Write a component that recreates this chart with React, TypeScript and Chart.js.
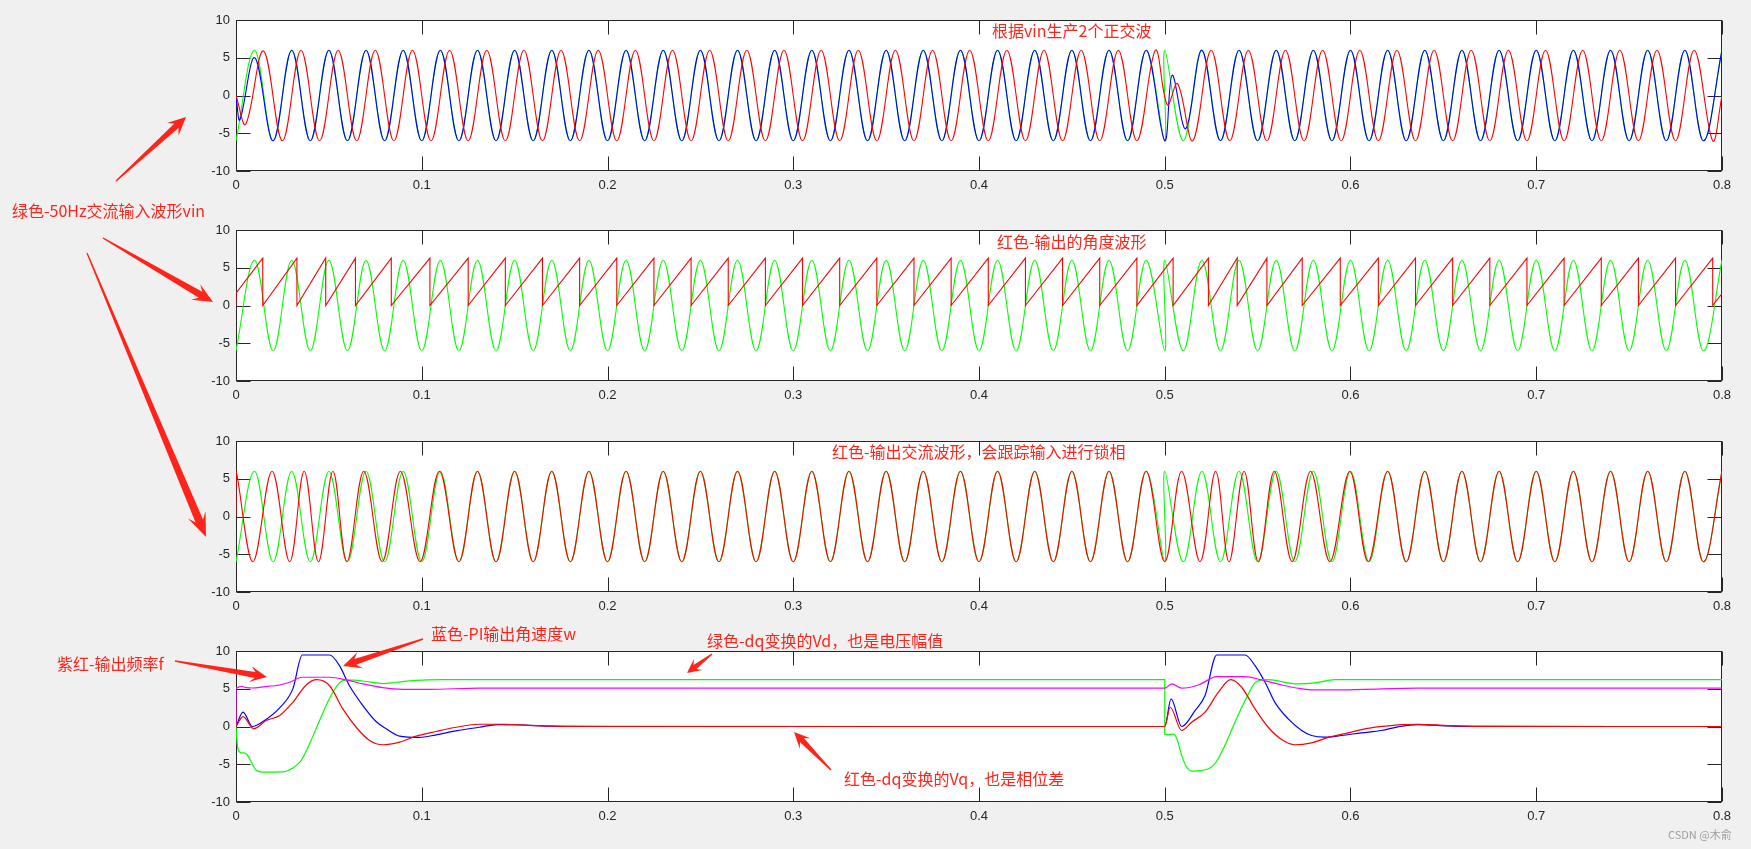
import React, { useEffect, useRef } from "react";
import { Chart, registerables } from "chart.js";

Chart.register(...registerables);

// ---------------- axis ticks ----------------
const X_TICKS = [0, 0.1, 0.2, 0.3, 0.4, 0.5, 0.6, 0.7, 0.8];
const X_TICK_LABELS = ["0", "0.1", "0.2", "0.3", "0.4", "0.5", "0.6", "0.7", "0.8"];
const Y_TICKS = [-10, -5, 0, 5, 10];
const Y_TICK_LABELS = ["-10", "-5", "0", "5", "10"];

// ---------------- series (time s, value) ----------------
// green: 50 Hz input vin (extremes; phase reversal at 0.5 s)
const vinInput = [
  [0, -6], [0.01, 6], [0.02, -6], [0.03, 6], [0.04, -6], [0.05, 6], [0.06, -6], [0.07, 6], [0.08, -6], [0.09, 6],
  [0.1, -6], [0.11, 6], [0.12, -6], [0.13, 6], [0.14, -6], [0.15, 6], [0.16, -6], [0.17, 6], [0.18, -6], [0.19, 6],
  [0.2, -6], [0.21, 6], [0.22, -6], [0.23, 6], [0.24, -6], [0.25, 6], [0.26, -6], [0.27, 6], [0.28, -6], [0.29, 6],
  [0.3, -6], [0.31, 6], [0.32, -6], [0.33, 6], [0.34, -6], [0.35, 6], [0.36, -6], [0.37, 6], [0.38, -6], [0.39, 6],
  [0.4, -6], [0.41, 6], [0.42, -6], [0.43, 6], [0.44, -6], [0.45, 6], [0.46, -6], [0.47, 6], [0.48, -6], [0.49, 6],
  [0.5, -6], [0.5, 6], [0.51, -6], [0.52, 6], [0.53, -6], [0.54, 6], [0.55, -6], [0.56, 6], [0.57, -6], [0.58, 6], [0.59, -6],
  [0.6, 6], [0.61, -6], [0.62, 6], [0.63, -6], [0.64, 6], [0.65, -6], [0.66, 6], [0.67, -6], [0.68, 6], [0.69, -6],
  [0.7, 6], [0.71, -6], [0.72, 6], [0.73, -6], [0.74, 6], [0.75, -6], [0.76, 6], [0.77, -6], [0.78, 6], [0.79, -6], [0.8, 6],
];

// blue: in-phase orthogonal wave
const alphaWave = [
  [0, 0], [0.0021, -3.2], [0.0101, 5.0], [0.02, -6], [0.03, 6], [0.04, -6], [0.05, 6], [0.06, -6], [0.07, 6], [0.08, -6], [0.09, 6],
  [0.1, -6], [0.11, 6], [0.12, -6], [0.13, 6], [0.14, -6], [0.15, 6], [0.16, -6], [0.17, 6], [0.18, -6], [0.19, 6],
  [0.2, -6], [0.21, 6], [0.22, -6], [0.23, 6], [0.24, -6], [0.25, 6], [0.26, -6], [0.27, 6], [0.28, -6], [0.29, 6],
  [0.3, -6], [0.31, 6], [0.32, -6], [0.33, 6], [0.34, -6], [0.35, 6], [0.36, -6], [0.37, 6], [0.38, -6], [0.39, 6],
  [0.4, -6], [0.41, 6], [0.42, -6], [0.43, 6], [0.44, -6], [0.45, 6], [0.46, -6], [0.47, 6], [0.48, -6], [0.49, 6],
  [0.5, -6], [0.504, 2.7], [0.5113, -4.4], [0.52, 6], [0.53, -6], [0.54, 6], [0.55, -6], [0.56, 6], [0.57, -6], [0.58, 6], [0.59, -6],
  [0.6, 6], [0.61, -6], [0.62, 6], [0.63, -6], [0.64, 6], [0.65, -6], [0.66, 6], [0.67, -6], [0.68, 6], [0.69, -6],
  [0.7, 6], [0.71, -6], [0.72, 6], [0.73, -6], [0.74, 6], [0.75, -6], [0.76, 6], [0.77, -6], [0.78, 6], [0.79, -6], [0.8, 6],
];

// red: quadrature orthogonal wave
const betaWave = [
  [0, 0], [0.0052, -3.8], [0.0148, 5.9], [0.025, -6], [0.035, 6], [0.045, -6], [0.055, 6], [0.065, -6], [0.075, 6], [0.085, -6], [0.095, 6],
  [0.105, -6], [0.115, 6], [0.125, -6], [0.135, 6], [0.145, -6], [0.155, 6], [0.165, -6], [0.175, 6], [0.185, -6], [0.195, 6],
  [0.205, -6], [0.215, 6], [0.225, -6], [0.235, 6], [0.245, -6], [0.255, 6], [0.265, -6], [0.275, 6], [0.285, -6], [0.295, 6],
  [0.305, -6], [0.315, 6], [0.325, -6], [0.335, 6], [0.345, -6], [0.355, 6], [0.365, -6], [0.375, 6], [0.385, -6], [0.395, 6],
  [0.405, -6], [0.415, 6], [0.425, -6], [0.435, 6], [0.445, -6], [0.455, 6], [0.465, -6], [0.475, 6], [0.485, -6], [0.495, 6],
  [0.5014, -1.26], [0.5069, 1.57], [0.5151, -6], [0.525, 6], [0.535, -6], [0.545, 6], [0.555, -6], [0.565, 6], [0.575, -6], [0.585, 6], [0.595, -6],
  [0.605, 6], [0.615, -6], [0.625, 6], [0.635, -6], [0.645, 6], [0.655, -6], [0.665, 6], [0.675, -6], [0.685, 6], [0.695, -6],
  [0.705, 6], [0.715, -6], [0.725, 6], [0.735, -6], [0.745, 6], [0.755, -6], [0.765, 6], [0.775, -6], [0.785, 6], [0.795, -6], [0.8, 0],
];

// red: output angle (sawtooth 0..2pi)
const thetaAngle = [
  [0, 0], [0, 1.65], [0.0144, 6.28], [0.0144, 0], [0.0328, 6.28], [0.0328, 0], [0.0483, 6.28], [0.0483, 0],
  [0.0643, 6.28], [0.0643, 0], [0.0836, 6.28], [0.0836, 0], [0.1044, 6.28], [0.1044, 0], [0.125, 6.28], [0.125, 0],
  [0.145, 6.28], [0.145, 0], [0.165, 6.28], [0.165, 0], [0.185, 6.28], [0.185, 0], [0.205, 6.28], [0.205, 0],
  [0.225, 6.28], [0.225, 0], [0.245, 6.28], [0.245, 0], [0.265, 6.28], [0.265, 0], [0.285, 6.28], [0.285, 0],
  [0.305, 6.28], [0.305, 0], [0.325, 6.28], [0.325, 0], [0.345, 6.28], [0.345, 0], [0.365, 6.28], [0.365, 0],
  [0.385, 6.28], [0.385, 0], [0.405, 6.28], [0.405, 0], [0.425, 6.28], [0.425, 0], [0.445, 6.28], [0.445, 0],
  [0.465, 6.28], [0.465, 0], [0.485, 6.28], [0.485, 0], [0.5045, 6.28], [0.5045, 0], [0.5235, 6.28], [0.5235, 0],
  [0.539, 6.28], [0.539, 0], [0.555, 6.28], [0.555, 0], [0.574, 6.28], [0.574, 0], [0.5945, 6.28], [0.5945, 0],
  [0.615, 6.28], [0.615, 0], [0.635, 6.28], [0.635, 0], [0.655, 6.28], [0.655, 0], [0.675, 6.28], [0.675, 0],
  [0.695, 6.28], [0.695, 0], [0.715, 6.28], [0.715, 0], [0.735, 6.28], [0.735, 0], [0.755, 6.28], [0.755, 0],
  [0.775, 6.28], [0.775, 0], [0.795, 6.28], [0.795, 0], [0.8, 1.57],
];

// red: PLL output sine
const pllOutput = [
  [0, 0], [0, 6], [0.0091, -6], [0.0194, 6], [0.0289, -6], [0.0367, 6], [0.0444, -6], [0.0522, 6], [0.0597, -6], [0.0688, 6],
  [0.0787, -6], [0.0885, 6], [0.0991, -6], [0.1095, 6], [0.12, -6], [0.13, 6], [0.14, -6], [0.15, 6], [0.16, -6], [0.17, 6],
  [0.18, -6], [0.19, 6], [0.2, -6], [0.21, 6], [0.22, -6], [0.23, 6], [0.24, -6], [0.25, 6], [0.26, -6], [0.27, 6],
  [0.28, -6], [0.29, 6], [0.3, -6], [0.31, 6], [0.32, -6], [0.33, 6], [0.34, -6], [0.35, 6], [0.36, -6], [0.37, 6],
  [0.38, -6], [0.39, 6], [0.4, -6], [0.41, 6], [0.42, -6], [0.43, 6], [0.44, -6], [0.45, 6], [0.46, -6], [0.47, 6],
  [0.48, -6], [0.49, 6], [0.5, -6], [0.5091, 6], [0.519, -6], [0.5274, 6], [0.5346, -6], [0.5427, 6], [0.5504, -6], [0.559, 6],
  [0.5686, -6], [0.5785, 6], [0.5889, -6], [0.5996, 6], [0.6095, -6], [0.62, 6], [0.63, -6], [0.64, 6], [0.65, -6], [0.66, 6],
  [0.67, -6], [0.68, 6], [0.69, -6], [0.7, 6], [0.71, -6], [0.72, 6], [0.73, -6], [0.74, 6], [0.75, -6], [0.76, 6],
  [0.77, -6], [0.78, 6], [0.79, -6], [0.8, 6],
];

// blue: PI output angular speed w
const omegaPI = [
  [0, 0], [0.0038, 1.9], [0.0088, 0.0], [0.0145, 0.66], [0.0235, 2.47], [0.0306, 4.98], [0.0357, 9.47], [0.0504, 9.47],
  [0.0557, 8.06], [0.0611, 5.4], [0.0683, 2.77], [0.0754, 0.66], [0.0808, -0.3], [0.088, -1.28], [0.0987, -1.45],
  [0.1077, -1.1], [0.1185, -0.57], [0.131, -0.1], [0.1406, 0.25], [0.155, 0.2], [0.17, 0.05], [0.2, 0], [0.5, 0],
  [0.5034, 3.66], [0.5091, 0.0], [0.5163, 2.1], [0.5217, 4.1], [0.528, 9.47], [0.5432, 9.47], [0.5486, 8.06],
  [0.554, 5.86], [0.5593, 3.2], [0.5665, 1.0], [0.5737, -0.53], [0.579, -1.19], [0.5862, -1.41], [0.5952, -1.19],
  [0.6059, -0.84], [0.6167, -0.53], [0.6256, -0.04], [0.6364, 0.26], [0.651, 0.09], [0.67, 0.02], [0.8, 0],
];

// green: dq transform Vd (voltage amplitude)
const vdValue = [
  [0, 0], [0.001, -2.95], [0.0029, -3.48], [0.0056, -3.6], [0.0073, -4.27], [0.0109, -5.8], [0.0145, -6.03], [0.0253, -6.0],
  [0.0306, -5.5], [0.0351, -4.5], [0.0396, -2.3], [0.045, 0.8], [0.0504, 3.74], [0.0557, 5.77], [0.0593, 6.17],
  [0.0683, 6.03], [0.079, 5.68], [0.0862, 5.86], [0.097, 6.12], [0.1113, 6.2], [0.5, 6.2], [0.5, -1.0], [0.502, -1.1],
  [0.5047, -1.0], [0.5065, -1.6], [0.5091, -3.83], [0.5118, -5.4], [0.5145, -5.9], [0.5235, -5.6], [0.5271, -4.9],
  [0.5324, -2.5], [0.5378, 0.57], [0.5432, 3.4], [0.5486, 5.77], [0.554, 6.2], [0.5575, 6.17], [0.5719, 5.64],
  [0.5808, 5.77], [0.5916, 6.2], [0.8, 6.2],
];

// red: dq transform Vq (phase difference)
const vqValue = [
  [0, 0], [0.0038, 1.32], [0.0095, -0.3], [0.0163, 0.8], [0.0235, 1.45], [0.0306, 3.2], [0.0378, 5.5], [0.0435, 6.2],
  [0.0504, 5.4], [0.0575, 2.33], [0.0647, -0.1], [0.0719, -1.85], [0.079, -2.42], [0.088, -2.07], [0.097, -1.28],
  [0.1077, -0.66], [0.1185, -0.1], [0.131, 0.3], [0.145, 0.3], [0.16, 0.12], [0.18, 0.02], [0.5, 0],
  [0.5029, 2.55], [0.5091, -0.53], [0.5145, 0.57], [0.5217, 1.9], [0.5289, 4.54], [0.5355, 6.2], [0.5414, 5.2],
  [0.5486, 2.33], [0.5557, -0.1], [0.5629, -1.72], [0.5701, -2.42], [0.579, -2.16], [0.588, -1.45], [0.5987, -0.84],
  [0.6077, -0.31], [0.6167, 0], [0.6274, 0.26], [0.6364, 0.3], [0.65, 0.15], [0.67, 0.02], [0.8, 0],
];

// magenta: output frequency f
const freqOut = [
  [0, 0], [0, 5.1], [0.0029, 5.33], [0.0056, 5.15], [0.009, 5.1], [0.0145, 5.24], [0.0235, 5.5], [0.0289, 5.86],
  [0.0357, 6.52], [0.0504, 6.52], [0.0593, 6.17], [0.0683, 5.64], [0.079, 5.15], [0.0898, 4.93], [0.1041, 4.93],
  [0.131, 5.07], [0.5, 5.07], [0.5038, 5.64], [0.5091, 5.07], [0.5181, 5.5], [0.528, 6.6], [0.5432, 6.6],
  [0.5521, 6.17], [0.5629, 5.5], [0.5719, 5.07], [0.5808, 4.85], [0.5916, 4.85], [0.6077, 4.93], [0.6364, 5.07], [0.8, 5.07],
];

// ---------------- styling / layout ----------------
const GREEN = "#00ff00";
const BLUE = "#0000ff";
const RED = "#ff0000";
const MAGENTA = "#ff00ff";
const AXIS_COLOR = "#262626";
const NOTE_COLOR = "#ff2419";
const TICK_FONT = "'Liberation Sans', Arial, Helvetica, sans-serif";
const CJK_FONT = "'Noto Sans CJK SC', 'Microsoft YaHei', sans-serif";

const FIG_W = 1751;
const FIG_H = 849;
const AX_LEFT = 236;
const AX_RIGHT = 1722;
const AX_H = 151;
const AX_TOPS = [20, 230, 441, 651];
const PAD_TOP = 16;
const LABEL_SPACE = 34;
const CANVAS_H = PAD_TOP + AX_H + LABEL_SPACE;
const INNER_TICK = 14;

type Mode = "sine" | "linear" | "monotone";
type LineSpec = { data: number[][]; color: string; mode: Mode; width: number };

// listed top-most first (Chart.js paints the first dataset last)
const PANELS: LineSpec[][] = [
  [
    { data: betaWave, color: RED, mode: "sine", width: 1.1 },
    { data: alphaWave, color: BLUE, mode: "sine", width: 1.1 },
    { data: vinInput, color: GREEN, mode: "sine", width: 1.1 },
  ],
  [
    { data: thetaAngle, color: RED, mode: "linear", width: 1.1 },
    { data: vinInput, color: GREEN, mode: "sine", width: 1.1 },
  ],
  [
    { data: pllOutput, color: RED, mode: "sine", width: 1.1 },
    { data: vinInput, color: GREEN, mode: "sine", width: 1.1 },
  ],
  [
    { data: vqValue, color: RED, mode: "monotone", width: 1.2 },
    { data: freqOut, color: MAGENTA, mode: "monotone", width: 1.2 },
    { data: vdValue, color: GREEN, mode: "monotone", width: 1.2 },
    { data: omegaPI, color: BLUE, mode: "monotone", width: 1.2 },
  ],
];

const axesPlugin = {
  id: "matlabAxes",
  beforeDraw(chart: any) {
    const { ctx, chartArea } = chart;
    ctx.save();
    ctx.fillStyle = "#ffffff";
    ctx.fillRect(chartArea.left, chartArea.top, chartArea.right - chartArea.left, chartArea.bottom - chartArea.top);
    ctx.restore();
  },
  beforeDatasetsDraw(chart: any) {
    const { ctx, chartArea } = chart;
    const xs = chart.scales.x;
    const ys = chart.scales.y;
    const l = chartArea.left + 0.5;
    const r = chartArea.right - 0.5;
    const t = chartArea.top + 0.5;
    const b = chartArea.bottom - 0.5;
    ctx.save();
    ctx.strokeStyle = AXIS_COLOR;
    ctx.lineWidth = 1;
    ctx.beginPath();
    X_TICKS.forEach((v) => {
      const px = Math.round(xs.getPixelForValue(v)) + 0.5;
      ctx.moveTo(px, b);
      ctx.lineTo(px, b - INNER_TICK);
      ctx.moveTo(px, t);
      ctx.lineTo(px, t + INNER_TICK);
    });
    Y_TICKS.forEach((v) => {
      const py = Math.round(ys.getPixelForValue(v)) + 0.5;
      ctx.moveTo(l, py);
      ctx.lineTo(l + INNER_TICK, py);
      ctx.moveTo(r, py);
      ctx.lineTo(r - INNER_TICK, py);
    });
    ctx.stroke();
    ctx.strokeRect(l, t, r - l, b - t);
    ctx.restore();
  },
};

function makeConfig(index: number): any {
  const datasets = PANELS[index].map((s) => ({
    data: s.data,
    borderColor: s.color,
    backgroundColor: s.color,
    borderWidth: s.width,
    pointRadius: 0,
    fill: false,
    tension: s.mode === "sine" ? 0.37 : s.mode === "monotone" ? 0.4 : 0,
    cubicInterpolationMode: s.mode === "monotone" ? "monotone" : "default",
  }));
  const tickFont = { family: TICK_FONT, size: 13 };
  return {
    type: "line",
    data: { datasets },
    plugins: [axesPlugin],
    options: {
      animation: false,
      responsive: false,
      maintainAspectRatio: false,
      devicePixelRatio: 1,
      events: [],
      layout: { padding: { left: 0, right: FIG_W - AX_RIGHT, top: PAD_TOP, bottom: 0 } },
      plugins: { legend: { display: false }, tooltip: { enabled: false }, title: { display: false } },
      scales: {
        x: {
          type: "linear",
          min: 0,
          max: 0.8,
          grid: { display: false, drawTicks: false },
          border: { display: false },
          afterBuildTicks: (scale: any) => {
            scale.ticks = X_TICKS.map((v) => ({ value: v }));
          },
          afterFit: (scale: any) => {
            scale.height = LABEL_SPACE;
          },
          ticks: {
            autoSkip: false,
            maxRotation: 0,
            minRotation: 0,
            padding: 7,
            color: AXIS_COLOR,
            font: tickFont,
            callback: (_v: any, i: number) => X_TICK_LABELS[i],
          },
        },
        y: {
          type: "linear",
          min: -10,
          max: 10,
          grid: { display: false, drawTicks: false },
          border: { display: false },
          afterBuildTicks: (scale: any) => {
            scale.ticks = Y_TICKS.map((v) => ({ value: v }));
          },
          afterFit: (scale: any) => {
            scale.width = AX_LEFT;
          },
          ticks: {
            autoSkip: false,
            padding: 6,
            color: AXIS_COLOR,
            font: tickFont,
            callback: (_v: any, i: number) => Y_TICK_LABELS[i],
          },
        },
      },
    },
  };
}

function Panel({ index }: { index: number }) {
  const ref = useRef<HTMLCanvasElement | null>(null);
  useEffect(() => {
    if (!ref.current) return;
    const chart = new Chart(ref.current, makeConfig(index));
    return () => chart.destroy();
  }, [index]);
  return (
    <canvas
      ref={ref}
      width={FIG_W}
      height={CANVAS_H}
      style={{ position: "absolute", left: 0, top: AX_TOPS[index] - PAD_TOP, width: FIG_W, height: CANVAS_H }}
    />
  );
}

// ---------------- annotations ----------------
const NOTES = [
  { text: "根据vin生产2个正交波", x: 992, y: 30 },
  { text: "绿色-50Hz交流输入波形vin", x: 12, y: 210 },
  { text: "红色-输出的角度波形", x: 997, y: 241 },
  { text: "红色-输出交流波形，会跟踪输入进行锁相", x: 832, y: 451 },
  { text: "蓝色-PI输出角速度w", x: 431, y: 633 },
  { text: "紫红-输出频率f", x: 57, y: 663 },
  { text: "绿色-dq变换的Vd，也是电压幅值", x: 707, y: 640 },
  { text: "红色-dq变换的Vq，也是相位差", x: 844, y: 778 },
];

const ARROWS = [
  { tail: [116, 181], tip: [186, 117], head: 18, headHalf: 8.5, shaft: 3 },
  { tail: [103, 238], tip: [213, 302], head: 20, headHalf: 9, shaft: 3.5 },
  { tail: [87, 253], tip: [206, 537], head: 24, headHalf: 9.5, shaft: 4 },
  { tail: [175, 661], tip: [267, 677], head: 17, headHalf: 8, shaft: 3 },
  { tail: [423, 639], tip: [343, 666], head: 18, headHalf: 8.5, shaft: 3 },
  { tail: [712, 654], tip: [687, 673], head: 14, headHalf: 7, shaft: 2.5 },
  { tail: [831, 770], tip: [794, 732], head: 16, headHalf: 7.5, shaft: 2.8 },
];

function arrowPath(a: { tail: number[]; tip: number[]; head: number; headHalf: number; shaft: number }) {
  const [tx, ty] = a.tail;
  const [px, py] = a.tip;
  const dx = px - tx;
  const dy = py - ty;
  const L = Math.hypot(dx, dy);
  const ux = dx / L;
  const uy = dy / L;
  const nx = -uy;
  const ny = ux;
  const bx = px - ux * a.head * 0.72;
  const by = py - uy * a.head * 0.72;
  const cx = px - ux * a.head;
  const cy = py - uy * a.head;
  const pts = [
    [tx + nx * 0.7, ty + ny * 0.7],
    [bx + nx * a.shaft, by + ny * a.shaft],
    [cx + nx * a.headHalf, cy + ny * a.headHalf],
    [px, py],
    [cx - nx * a.headHalf, cy - ny * a.headHalf],
    [bx - nx * a.shaft, by - ny * a.shaft],
    [tx - nx * 0.7, ty - ny * 0.7],
  ];
  return pts.map((p) => p[0].toFixed(1) + "," + p[1].toFixed(1)).join(" ");
}

export default function App() {
  return (
    <div
      style={{
        position: "fixed",
        left: 0,
        top: 0,
        width: FIG_W,
        height: FIG_H,
        background: "#f0f0f0",
        overflow: "hidden",
      }}
    >
      {PANELS.map((_, i) => (
        <Panel key={i} index={i} />
      ))}
      <svg
        width={FIG_W}
        height={FIG_H}
        style={{ position: "absolute", left: 0, top: 0, pointerEvents: "none" }}
      >
        {ARROWS.map((a, i) => (
          <polygon key={i} points={arrowPath(a)} fill={NOTE_COLOR} />
        ))}
      </svg>
      {NOTES.map((n, i) => (
        <div
          key={i}
          style={{
            position: "absolute",
            left: n.x,
            top: n.y - 11,
            height: 22,
            lineHeight: "22px",
            fontFamily: CJK_FONT,
            fontSize: 16,
            color: NOTE_COLOR,
            whiteSpace: "nowrap",
          }}
        >
          {n.text}
        </div>
      ))}
      <div
        style={{
          position: "absolute",
          left: 1668,
          top: 826,
          lineHeight: "16px",
          fontFamily: CJK_FONT,
          fontSize: 11,
          color: "#a0a0a0",
          whiteSpace: "nowrap",
        }}
      >
        CSDN @木俞
      </div>
    </div>
  );
}
